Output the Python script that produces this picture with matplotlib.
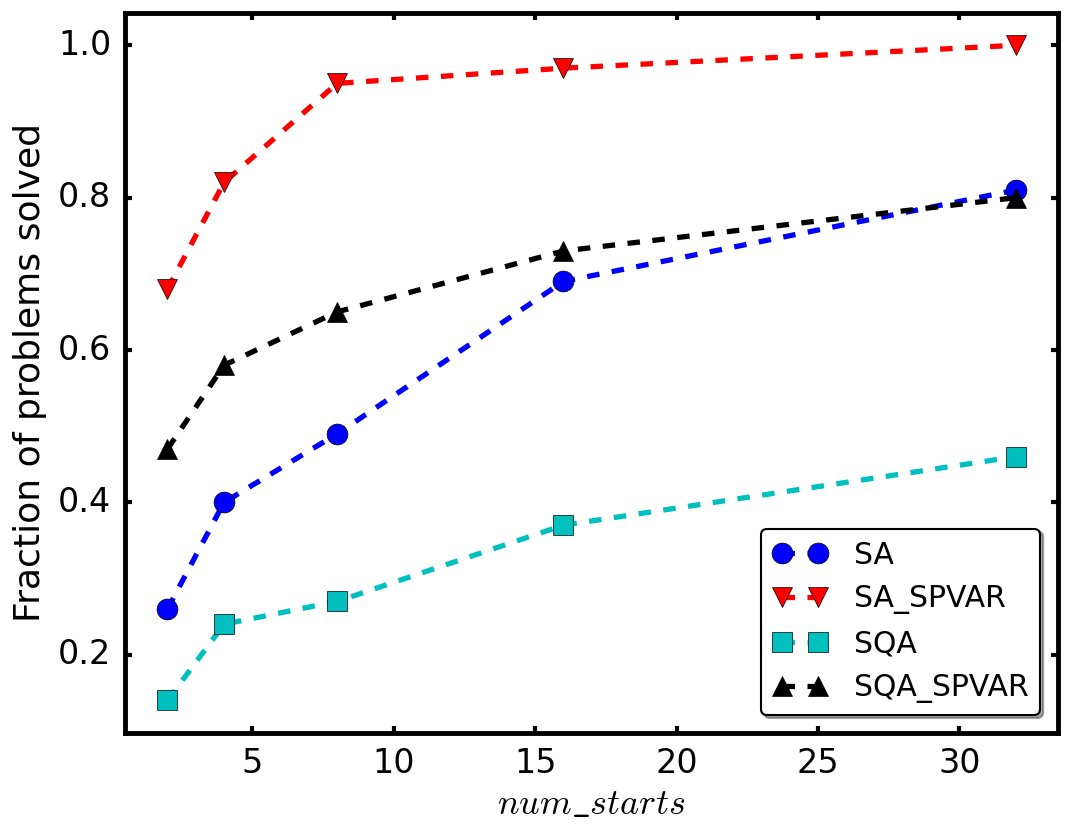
import matplotlib
matplotlib.use("Agg")
import matplotlib.pyplot as plt

plt.style.use('classic')
plt.rcParams['mathtext.fontset'] = 'cm'

# data
num_starts = [2, 4, 8, 16, 32]
sa = [0.26, 0.40, 0.49, 0.69, 0.81]
sa_spvar = [0.68, 0.82, 0.95, 0.97, 1.00]
sqa = [0.14, 0.24, 0.27, 0.37, 0.46]
sqa_spvar = [0.47, 0.58, 0.65, 0.73, 0.80]

fig = plt.figure(figsize=(10.69, 8.36), dpi=100, facecolor='white')
ax = fig.add_axes([0.117, 0.123, 0.873, 0.862])

lw = 3.8
ms = 15
dash = (9, 9)
ax.plot(num_starts, sa, 'bo--', lw=lw, ms=ms, dashes=dash, label='SA')
ax.plot(num_starts, sa_spvar, 'rv--', lw=lw, ms=ms, dashes=dash, label='SA_SPVAR')
ax.plot(num_starts, sqa, 'cs--', lw=lw, ms=ms - 1, dashes=dash, label='SQA')
ax.plot(num_starts, sqa_spvar, 'k^--', lw=lw, ms=ms, dashes=dash, label='SQA_SPVAR')

ax.margins(0.05)
ax.set_xticks([5, 10, 15, 20, 25, 30])
ax.set_yticks([0.2, 0.4, 0.6, 0.8, 1.0])
for s in ax.spines.values():
    s.set_linewidth(3.5)
ax.tick_params(labelsize=24, width=3, length=5, pad=10)
ax.set_xlabel(r'$num\_starts$', fontsize=26)
ax.set_ylabel('Fraction of problems solved', fontsize=26, labelpad=8)

leg = ax.legend(loc='lower right', fontsize=21.5, fancybox=True, shadow=True,
                numpoints=2, handlelength=1.8, handletextpad=0.9,
                borderaxespad=0.6)
leg.get_frame().set_linewidth(1.5)

fig.savefig('out.png', dpi=100, facecolor='white')
